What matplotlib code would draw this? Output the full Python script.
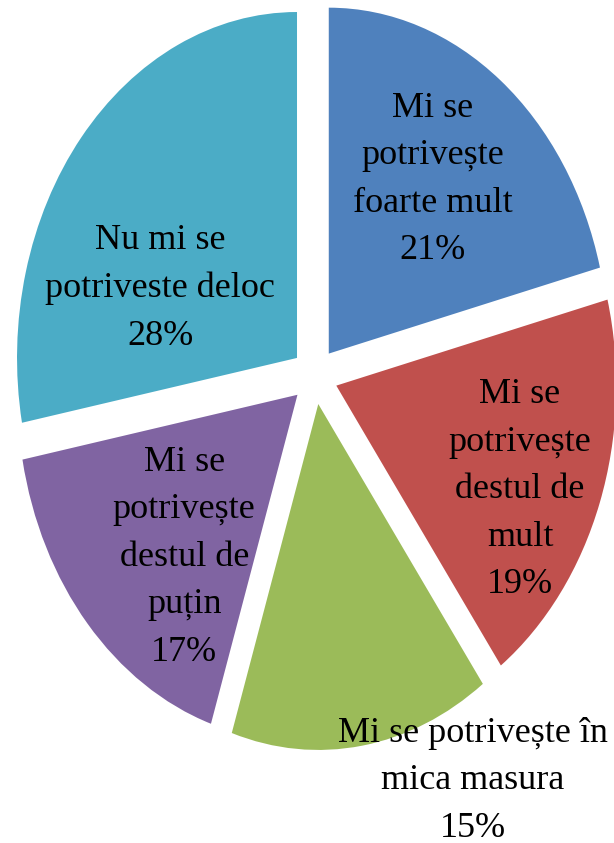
import matplotlib
matplotlib.use("Agg")
import matplotlib.pyplot as plt

# slices, clockwise from 12 o'clock
categories = [
    "Mi se\npotrivește\nfoarte mult",
    "Mi se\npotrivește\ndestul de\nmult",
    "Mi se potrivește în\nmica masura",
    "Mi se\npotrivește\ndestul de\npuțin",
    "Nu mi se\npotriveste deloc",
]
values = [21, 19, 15, 17, 28]
colors = ["#4F81BD", "#C0504D", "#9BBB59", "#8064A2", "#4BACC6"]

# label anchors in axes fraction
label_pos = [(0.705, 0.787), (0.847, 0.419), (0.770, 0.074), (0.300, 0.339), (0.261, 0.658)]

fig = plt.figure(figsize=(6.14, 8.43), dpi=100)
ax = fig.add_axes([0, 0, 1, 1])

ax.pie(values, colors=colors, startangle=90, counterclock=False,
       explode=[0.082] * len(values), radius=1.0,
       wedgeprops=dict(linewidth=0))

# the original pie is stretched vertically
ax.set_aspect("auto")
ax.set_xlim(-1.124, 1.069)
ax.set_ylim(-1.350, 1.087)
ax.axis("off")

for name, v, (x, y) in zip(categories, values, label_pos):
    ax.text(x, y, f"{name}\n{v}%", transform=ax.transAxes,
            ha="center", va="center", multialignment="center",
            fontsize=26, family=["Liberation Serif", "DejaVu Serif"],
            linespacing=1.58, color="black")

fig.savefig("out.png", dpi=100)
